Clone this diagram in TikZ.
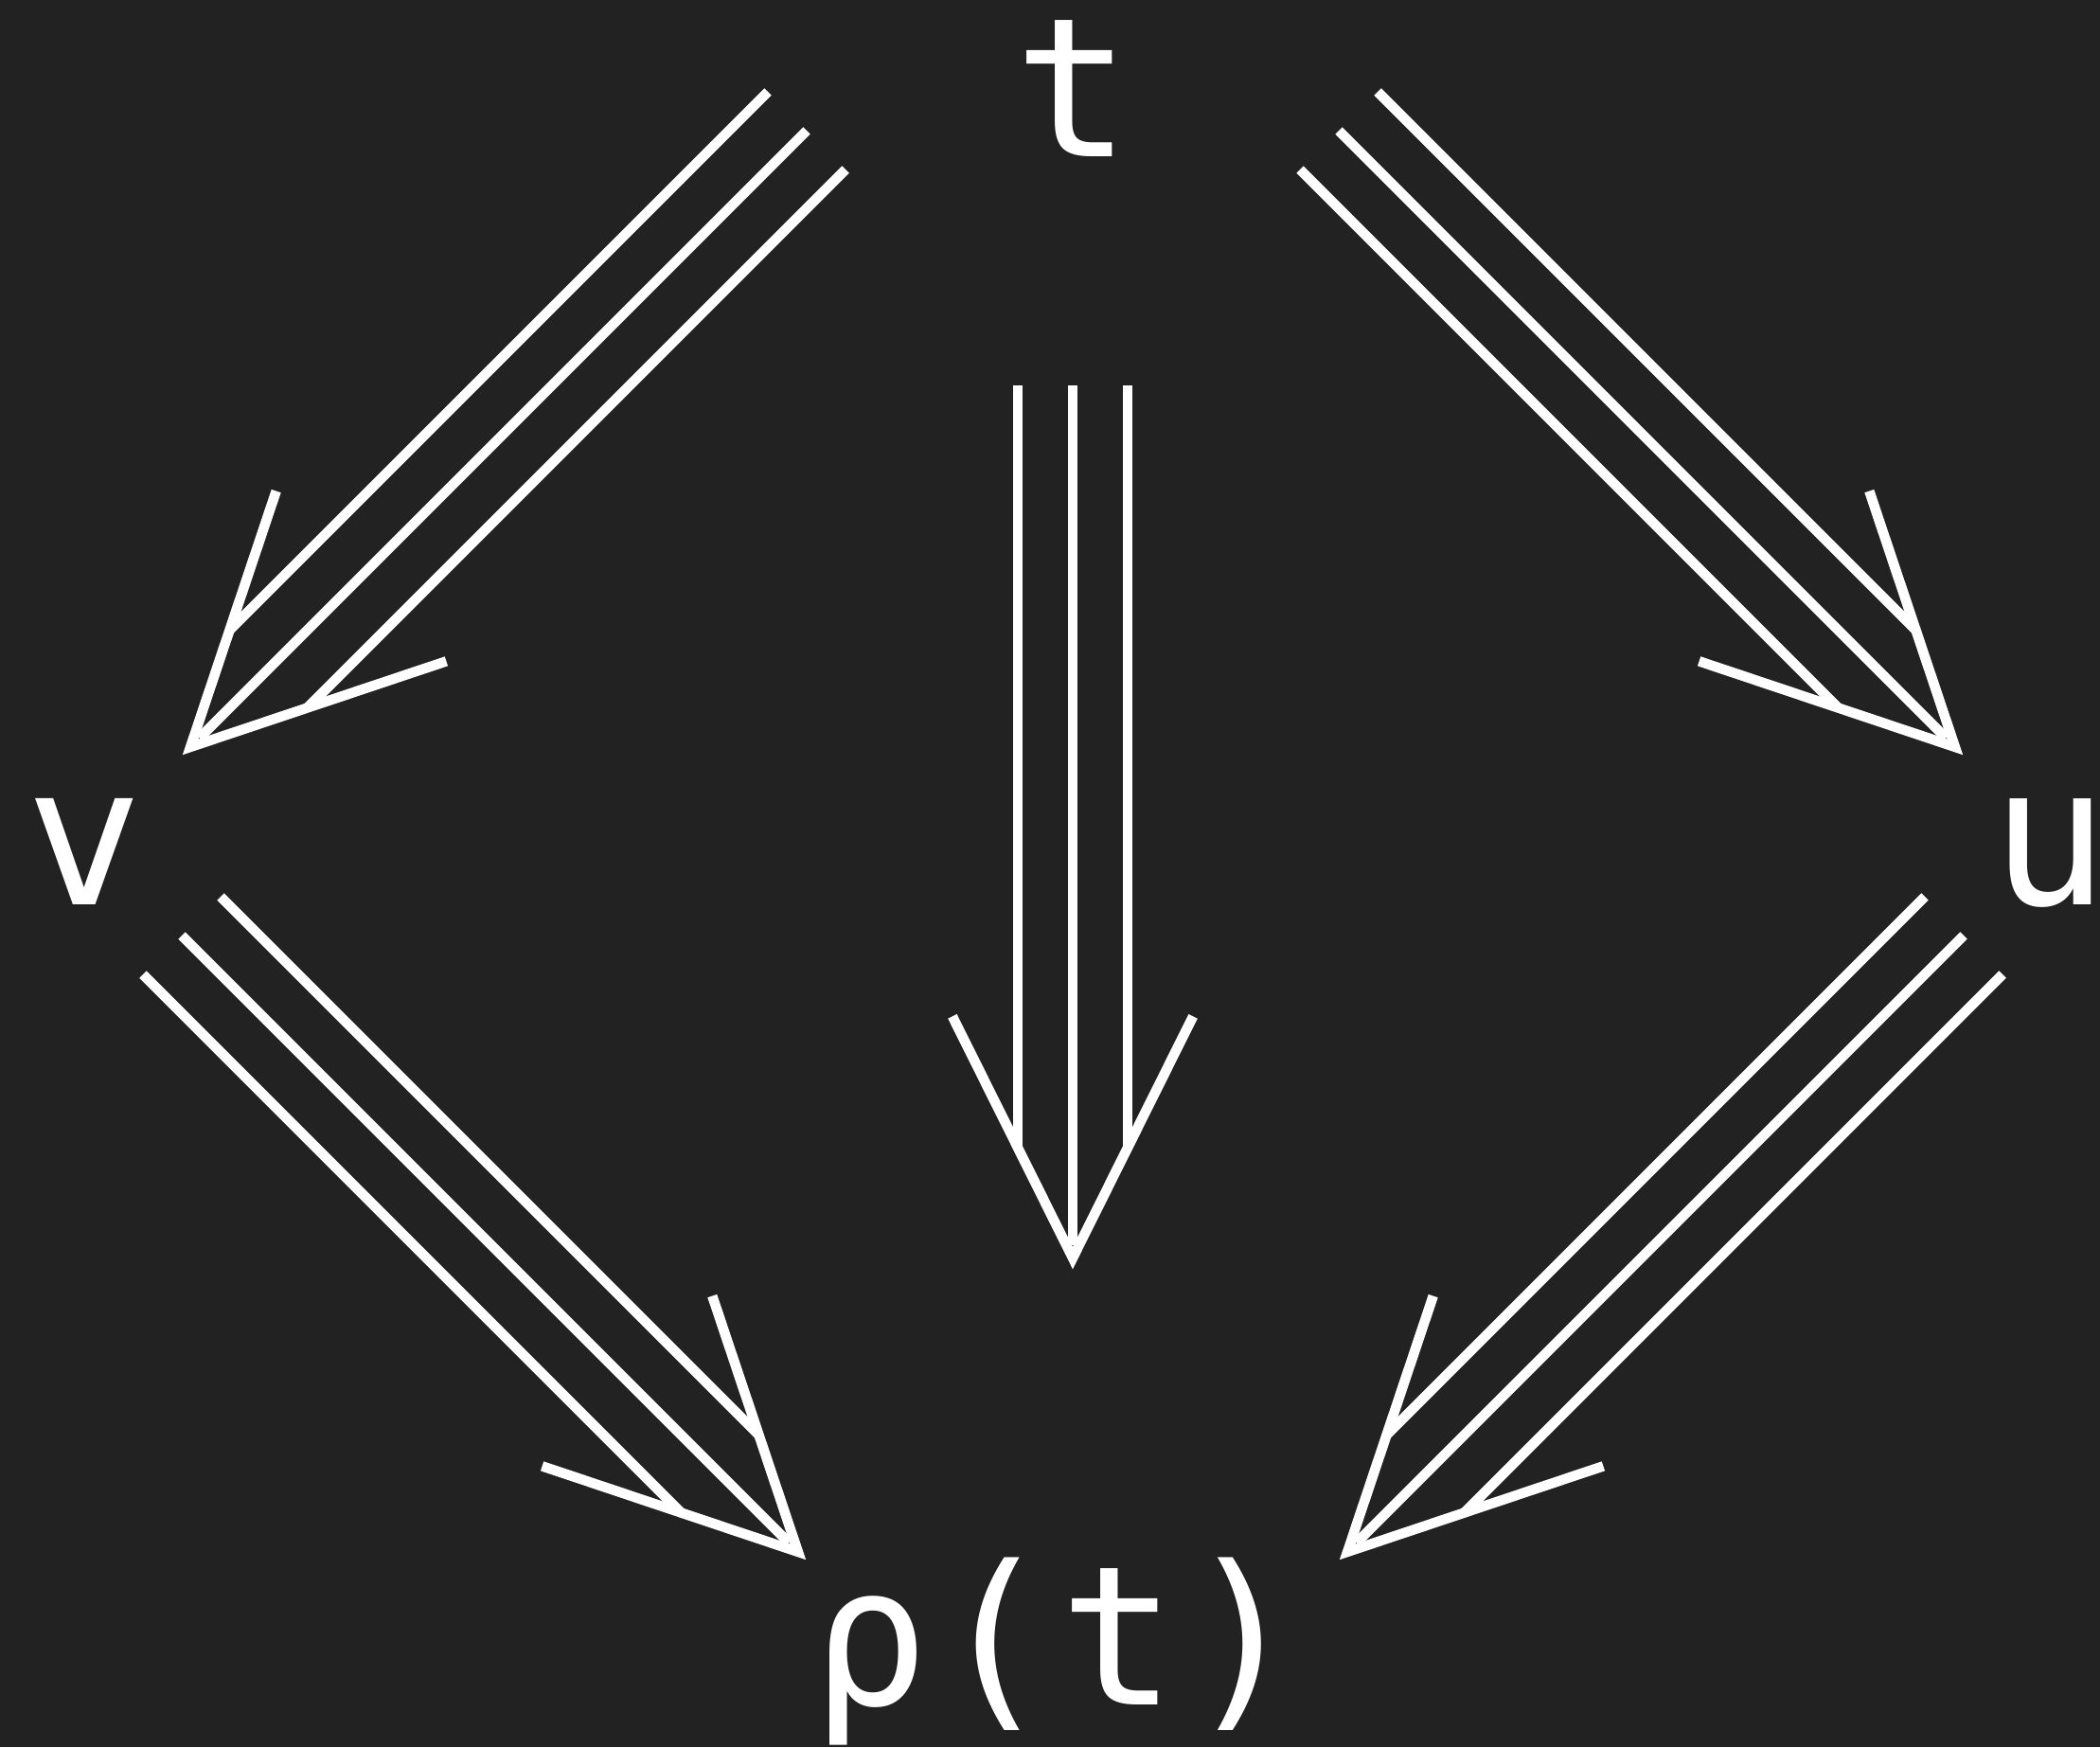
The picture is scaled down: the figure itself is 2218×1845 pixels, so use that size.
\documentclass[tikz,border=0pt]{standalone}
\usepackage{fontspec}
\setmainfont{DejaVu Sans Mono}
\usetikzlibrary{calc}
\definecolor{bg}{RGB}{34,34,34}
\tikzset{
  arrline/.style={draw=white, line width=1.05mm, line cap=butt},
  lbl/.style={text=white, inner sep=0pt, anchor=base, font=\fontsize{58.3}{60}\selectfont},
}
% #1 start (named coordinate), #2 visible tip (named coordinate)
\newcommand\triarrow[2]{%
  \coordinate (#1v) at ($(#2)!1.15mm!(#1)$);
  \coordinate (#1m) at ($(#2)!2.5mm!(#1)$);
  \coordinate (#1o) at ($(#1v)!11.65mm!(#1)$);
  \coordinate (#1h) at ($(#1v)!25.5mm!(#1)$);
  \draw[arrline] (#1) -- (#1m);
  \draw[arrline] ($(#1)!5.8mm!90:(#2)$) -- ($(#1o)!5.8mm!-90:(#1)$);
  \draw[arrline] ($(#1)!5.8mm!-90:(#2)$) -- ($(#1o)!5.8mm!90:(#1)$);
  \draw[arrline, miter limit=10] ($(#1h)!12.7mm!-90:(#1)$) -- (#1v) -- ($(#1h)!12.7mm!90:(#1)$);
}
\begin{document}
\begin{tikzpicture}[x=0.01cm, y=-0.01cm]
  \fill[bg] (0,0) rectangle (2218,1845);
  \useasboundingbox (0,0) rectangle (2218,1845);

  \node[lbl] (t) at (1133,165) {t};
  \node[lbl] (v) at (89,955) {v};
  \node[lbl] (u) at (2165,955) {u};
  \node[lbl] (pt) at (1116,1800) {ρ\hspace{0.08cm}(\hspace{0.08cm}t\hspace{0.08cm})};

  % t -> v
  \coordinate (tvA) at (852,138);
  \coordinate (tvB) at (193,797);
  \triarrow{tvA}{tvB}
  % t -> u
  \coordinate (tuA) at (1414,138);
  \coordinate (tuB) at (2073,797);
  \triarrow{tuA}{tuB}
  % t -> p(t)
  \coordinate (tpA) at (1133,407);
  \coordinate (tpB) at (1133,1340);
  \triarrow{tpA}{tpB}
  % v -> p(t)
  \coordinate (vpA) at (192,988);
  \coordinate (vpB) at (851,1647);
  \triarrow{vpA}{vpB}
  % u -> p(t)
  \coordinate (upA) at (2074,988);
  \coordinate (upB) at (1415,1647);
  \triarrow{upA}{upB}
\end{tikzpicture}
\end{document}
